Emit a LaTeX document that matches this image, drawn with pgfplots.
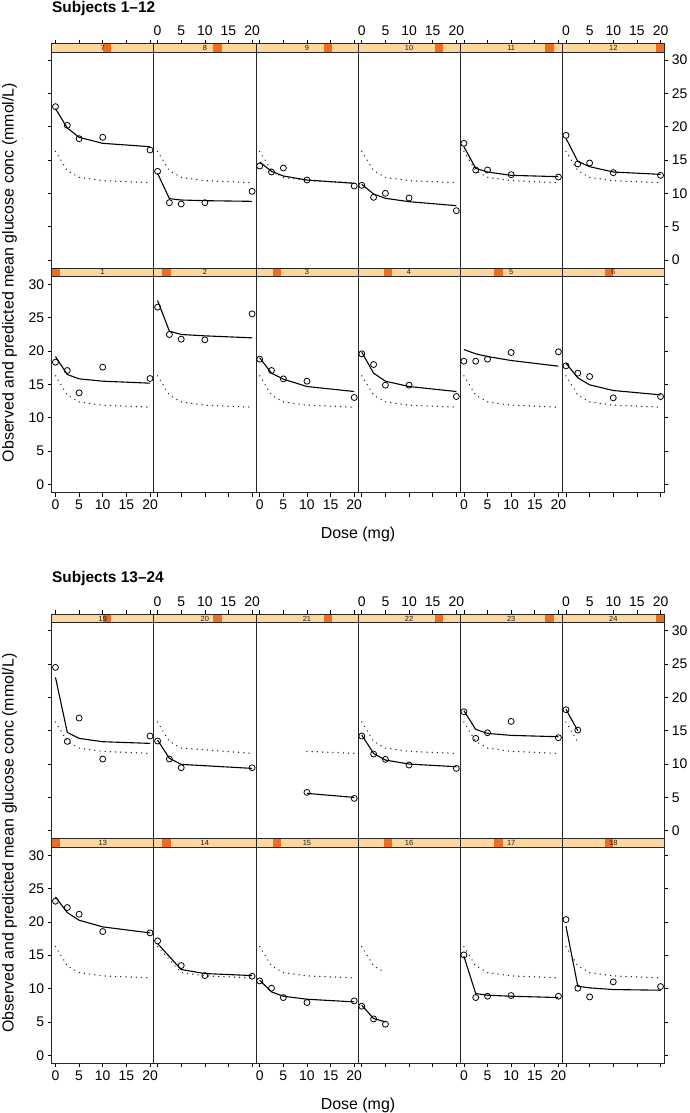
\documentclass[border=0pt]{standalone}
\usepackage{fontspec}
\setmainfont{Liberation Sans}
\usepackage{pgfplots}
\pgfplotsset{compat=1.18}
\definecolor{stripbg}{RGB}{253,214,160}
\definecolor{stripfg}{RGB}{240,108,30}
\newcommand{\ticksz}{\fontsize{14}{16}\selectfont}
\newcommand{\labsz}{\fontsize{16}{18}\selectfont}
\newcommand{\titsz}{\fontsize{15.5}{18}\selectfont\bfseries}
\newcommand{\stripsz}{\fontsize{7.5}{8}\selectfont}
\pgfplotsset{
 panel/.style={scale only axis, width=102.1bp, height=224.5bp,
   xmin=-0.8, xmax=20.8, ymin=-1.2, ymax=32.475,
   anchor=north west, clip=false, axis on top,
   axis line style={black!85, line width=0.8bp},
   tick align=outside, major tick length=4bp,
   tick style={black, line width=0.7bp},
   xtick={0,5,10,15,20}, xticklabels={},
   ytick=\empty,
   ticklabel style={font=\ticksz},
 },
 toprow/.style={xtick pos=right, xticklabel pos=right},
 botrow/.style={xtick pos=left, xticklabel pos=left},
 xlab/.style={xticklabels={0,5,10,15,20}},
 leftcol/.style={ytick={0,5,10,15,20,25,30}, ytick pos=left, yticklabel pos=left, yticklabels={}},
 rightcol/.style={ytick={0,5,10,15,20,25,30}, ytick pos=right, yticklabel pos=right, yticklabels={}},
 ylab/.style={yticklabels={0,5,10,15,20,25,30}},
 obsp/.style={only marks, mark=o, mark size=3bp, black, mark options={line width=0.8bp, fill=none}},
 indl/.style={black, line width=1.1bp, no markers},
 popl/.style={black!85, line width=1.5bp, line cap=round, dash pattern=on 0.01bp off 5.2bp, no markers},
}
% #1 options, #2 left frac, #3 right frac, #4 label, #5 obs, #6 ind, #7 pop
\newcommand{\panel}[7]{%
 \begin{axis}[panel,#1]
  \fill[stripbg] (rel axis cs:0,0.96214) rectangle (rel axis cs:1,1);
  \fill[stripfg] (rel axis cs:#2,0.96214) rectangle (rel axis cs:#3,1);
  \draw[black!85, line width=0.8bp] (rel axis cs:0,0.96214) rectangle (rel axis cs:1,1);
  \node[font=\stripsz, text=black!90, inner sep=0] at (rel axis cs:0.5,0.98107) {#4};
  \addplot[popl] coordinates {#7};
  \addplot[indl] coordinates {#6};
  \addplot[obsp] coordinates {#5};
 \end{axis}}
\newcommand{\popall}{(0,16.3)(2.5,13.4)(5,12.4)(10,11.9)(20,11.6)}
\begin{document}
\begin{tikzpicture}[x=1bp,y=1bp]
\useasboundingbox (0,0) rectangle (690,-1113);
% ---------------- Subjects 1-12 ----------------
\node[anchor=base west, font=\titsz, inner sep=0] at (52,-12.2) {Subjects 1--12};
\node[anchor=base, rotate=90, font=\labsz, inner sep=0] at (13.5,-272.5) {Observed and predicted mean glucose conc (mmol/L)};
\node[anchor=base, font=\labsz, inner sep=0] at (358,-538.7) {Dose (mg)};
% top row: 7-12
\panel{toprow,leftcol,at={(51.7bp,-43.5bp)}}{0.5}{0.58333}{7}
 {(0,23.0)(2.5,20.2)(5,18.2)(10,18.4)(20,16.5)}
 {(0,22.7)(2.5,19.8)(5,18.4)(10,17.5)(20,17.0)}{\popall}
\panel{toprow,xlab,at={(153.8bp,-43.5bp)}}{0.58333}{0.66667}{8}
 {(0,13.3)(2.5,8.6)(5,8.4)(10,8.6)(20,10.3)}
 {(0,13.0)(2.5,9.2)(5,9.0)(10,8.9)(20,8.8)}{\popall}
\panel{toprow,at={(255.9bp,-43.5bp)}}{0.66667}{0.75}{9}
 {(0,14.1)(2.5,13.2)(5,13.8)(10,12.0)(20,11.1)}
 {(0,14.7)(2.5,13.3)(5,12.6)(10,12.0)(20,11.5)}{\popall}
\panel{toprow,xlab,at={(358.0bp,-43.5bp)}}{0.75}{0.83333}{10}
 {(0,11.2)(2.5,9.4)(5,10.0)(10,9.3)(20,7.4)}
 {(0,11.35)(2.5,9.9)(5,9.25)(10,8.75)(20,8.15)}{\popall}
\panel{toprow,at={(460.1bp,-43.5bp)}}{0.83333}{0.91667}{11}
 {(0,17.5)(2.5,13.5)(5,13.5)(10,12.8)(20,12.45)}
 {(0,17.0)(2.5,13.75)(5,13.2)(10,12.7)(20,12.5)}{\popall}
\panel{toprow,xlab,rightcol,ylab,at={(562.2bp,-43.5bp)}}{0.91667}{1}{12}
 {(0,18.7)(2.5,14.4)(5,14.55)(10,13.1)(20,12.7)}
 {(0,18.25)(2.5,14.8)(5,14.0)(10,13.2)(20,12.85)}{\popall}
% bottom row: 1-6
\panel{botrow,xlab,leftcol,ylab,at={(51.7bp,-268bp)}}{0}{0.08333}{1}
 {(0,18.35)(2.5,17.1)(5,13.75)(10,17.6)(20,15.9)}
 {(0,19.2)(2.5,16.5)(5,15.85)(10,15.5)(20,15.2)}{\popall}
\panel{botrow,at={(153.8bp,-268bp)}}{0.08333}{0.16667}{2}
 {(0,26.6)(2.5,22.5)(5,21.8)(10,21.7)(20,25.6)}
 {(0,27.6)(2.5,23.0)(5,22.5)(10,22.3)(20,22.0)}{\popall}
\panel{botrow,xlab,at={(255.9bp,-268bp)}}{0.16667}{0.25}{3}
 {(0,18.8)(2.5,17.1)(5,15.85)(10,15.5)(20,13.05)}
 {(0,19.0)(2.5,16.7)(5,15.8)(10,14.7)(20,13.95)}{\popall}
\panel{botrow,at={(358.0bp,-268bp)}}{0.25}{0.33333}{4}
 {(0,19.6)(2.5,18.0)(5,14.9)(10,14.9)(20,13.2)}
 {(0,19.85)(2.5,16.7)(5,15.5)(10,14.7)(20,13.95)}{\popall}
\panel{botrow,xlab,at={(460.1bp,-268bp)}}{0.33333}{0.41667}{5}
 {(0,18.5)(2.5,18.5)(5,18.8)(10,19.8)(20,19.9)}
 {(0,20.25)(2.5,19.6)(5,19.2)(10,18.6)(20,17.75)}{\popall}
\panel{botrow,rightcol,at={(562.2bp,-268bp)}}{0.41667}{0.5}{6}
 {(0,17.8)(2.5,16.7)(5,16.2)(10,13.0)(20,13.2)}
 {(0,18.2)(2.5,16.0)(5,14.95)(10,14.1)(20,13.45)}{\popall}
% ---------------- Subjects 13-24 ----------------
\node[anchor=base west, font=\titsz, inner sep=0] at (52,-582.2) {Subjects 13--24};
\node[anchor=base, rotate=90, font=\labsz, inner sep=0] at (13.5,-843.2) {Observed and predicted mean glucose conc (mmol/L)};
\node[anchor=base, font=\labsz, inner sep=0] at (358,-1109.3) {Dose (mg)};
% top row: 19-24
\panel{toprow,leftcol,at={(51.7bp,-614.2bp)}}{0.5}{0.58333}{19}
 {(0,24.5)(2.5,13.4)(5,16.9)(10,10.75)(20,14.2)}
 {(0,23.0)(2.5,14.75)(5,13.85)(10,13.35)(20,13.1)}{\popall}
\panel{toprow,xlab,at={(153.8bp,-614.2bp)}}{0.58333}{0.66667}{20}
 {(0,13.45)(2.5,10.75)(5,9.45)(20,9.45)}
 {(0,13.6)(2.5,10.85)(5,9.95)(20,9.35)}{(0,16.3)(2.5,13.4)(5,12.4)(20,11.6)}
\panel{toprow,at={(255.9bp,-614.2bp)}}{0.66667}{0.75}{21}
 {(10,5.75)(20,4.85)}
 {(10,5.6)(20,5.0)}{(10,11.9)(20,11.6)}
\panel{toprow,xlab,at={(358.0bp,-614.2bp)}}{0.75}{0.83333}{22}
 {(0,14.2)(2.5,11.5)(5,10.7)(10,9.85)(20,9.35)}
 {(0,14.35)(2.5,11.6)(5,10.6)(10,10.0)(20,9.6)}{\popall}
\panel{toprow,at={(460.1bp,-614.2bp)}}{0.83333}{0.91667}{23}
 {(0,17.85)(2.5,13.85)(5,14.7)(10,16.4)(20,13.95)}
 {(0,18.0)(2.5,15.2)(5,14.6)(10,14.3)(20,14.1)}{\popall}
\panel{toprow,xlab,rightcol,ylab,at={(562.2bp,-614.2bp)}}{0.91667}{1}{24}
 {(0,18.15)(2.5,15.1)}
 {(0,18.2)(2.5,15.0)}{(0,16.3)(2.5,13.3)}
% bottom row: 13-18
\panel{botrow,xlab,leftcol,ylab,at={(51.7bp,-838.7bp)}}{0}{0.08333}{13}
 {(0,23.1)(2.5,22.15)(5,21.15)(10,18.55)(20,18.35)}
 {(0,23.75)(2.5,21.4)(5,20.25)(10,19.25)(20,18.35)}{\popall}
\panel{botrow,at={(153.8bp,-838.7bp)}}{0.08333}{0.16667}{14}
 {(0,17.15)(5,13.45)(10,11.95)(20,11.85)}
 {(0,16.75)(5,12.85)(10,12.25)(20,11.95)}{(0,16.3)(5,12.4)(10,11.9)(20,11.6)}
\panel{botrow,xlab,at={(255.9bp,-838.7bp)}}{0.16667}{0.25}{15}
 {(0,11.15)(2.5,10.05)(5,8.65)(10,7.9)(20,8.15)}
 {(0,11.25)(2.5,9.5)(5,8.85)(10,8.4)(20,8.0)}{\popall}
\panel{botrow,at={(358.0bp,-838.7bp)}}{0.25}{0.33333}{16}
 {(0,7.35)(2.5,5.45)(5,4.65)}
 {(0,7.5)(2.5,5.5)(5,5.0)}{(0,16.3)(2.5,13.4)(5,12.4)}
\panel{botrow,xlab,at={(460.1bp,-838.7bp)}}{0.33333}{0.41667}{17}
 {(0,15.05)(2.5,8.65)(5,8.85)(10,8.95)(20,8.85)}
 {(0,14.85)(2.5,9.25)(5,9.0)(10,8.85)(20,8.65)}{\popall}
\panel{botrow,rightcol,at={(562.2bp,-838.7bp)}}{0.41667}{0.5}{18}
 {(0,20.35)(2.5,10.05)(5,8.75)(10,11.0)(20,10.3)}
 {(0,19.35)(2.5,10.35)(5,10.1)(10,9.85)(20,9.75)}{\popall}
\end{tikzpicture}
\end{document}
